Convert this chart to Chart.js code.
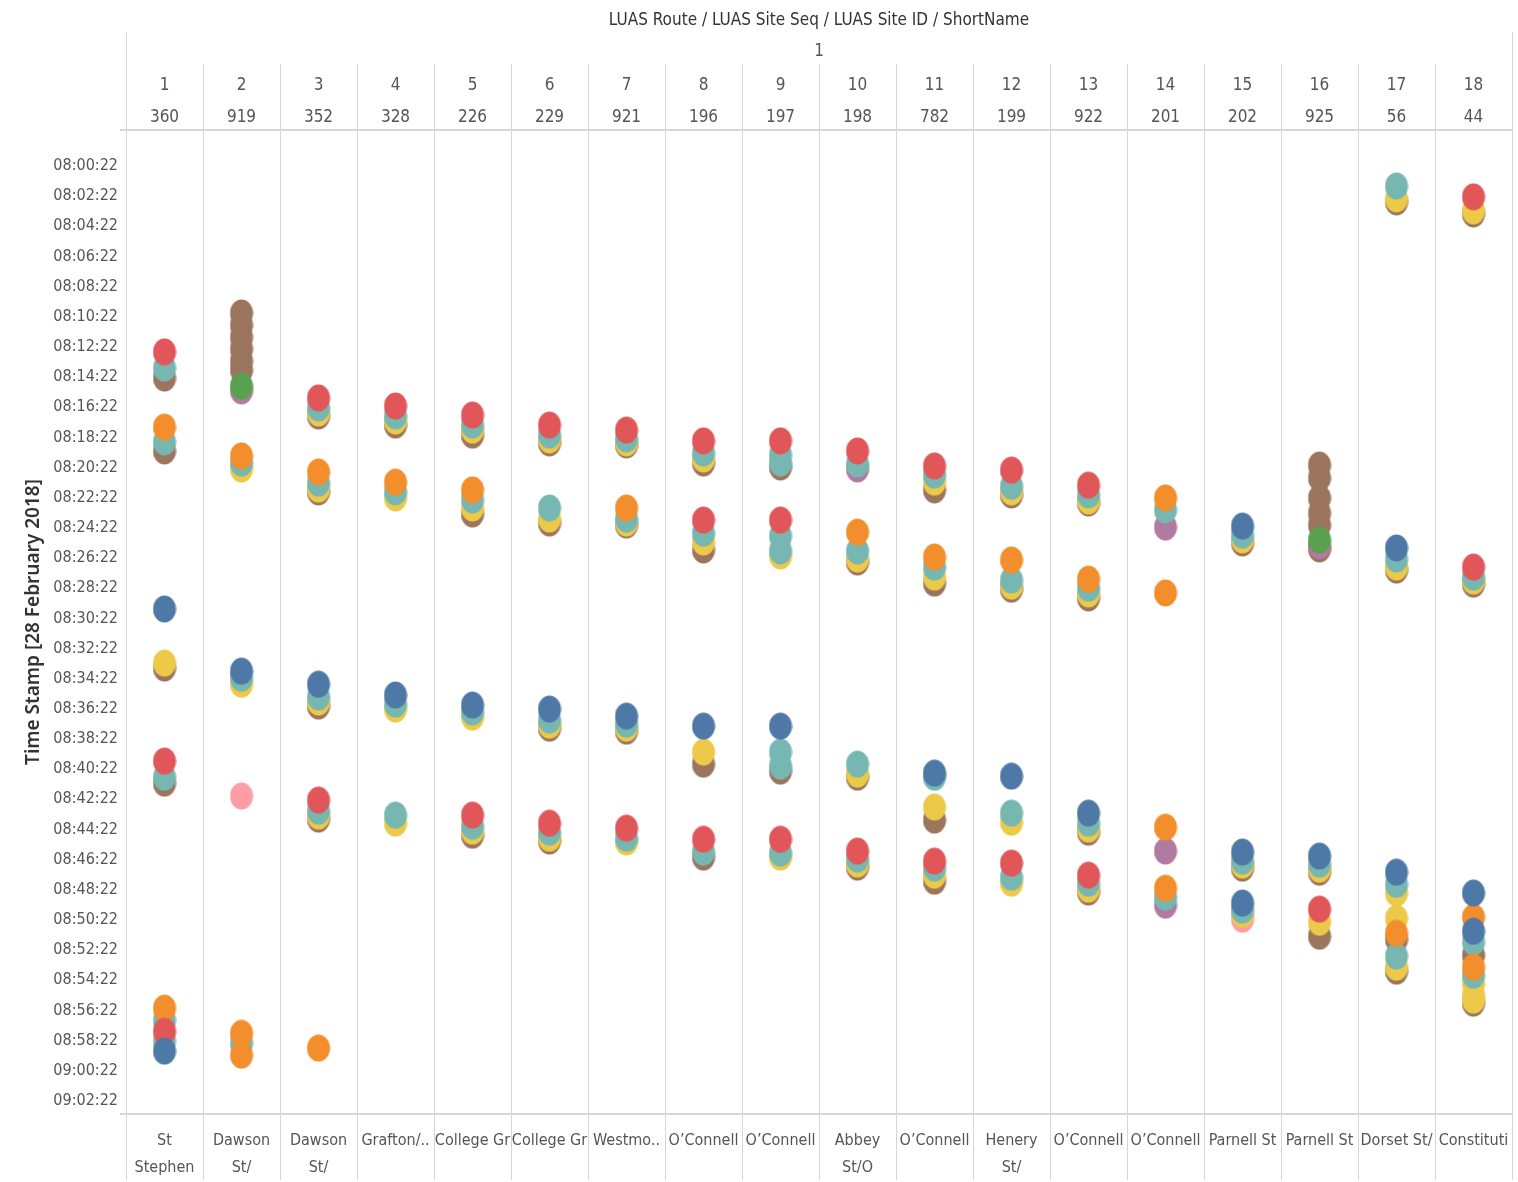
<!DOCTYPE html>
<html>
<head>
<meta charset="utf-8">
<title>LUAS stops timeline</title>
<script src="https://cdn.jsdelivr.net/npm/chart.js@4.4.1/dist/chart.umd.min.js"></script>
<style>
  html, body { margin: 0; padding: 0; background: #fff; }
  #wrap { width: 1518px; height: 1182px; }
</style>
</head>
<body>
<div id="wrap"><canvas id="luasChart" width="1518" height="1182"></canvas></div>
<script>
// header / axis labels
const seqNumbers = [1, 2, 3, 4, 5, 6, 7, 8, 9, 10, 11, 12, 13, 14, 15, 16, 17, 18];
const siteIds = ['360', '919', '352', '328', '226', '229', '921', '196', '197', '198', '782', '199', '922', '201', '202', '925', '56', '44'];
const shortNames = [
    ['St', 'Stephen'], ['Dawson', 'St/'], ['Dawson', 'St/'], ['Grafton/..'], ['College Gr'], ['College Gr'],
    ['Westmo..'], ['O’Connell'], ['O’Connell'], ['Abbey', 'St/O'], ['O’Connell'], ['Henery', 'St/'],
    ['O’Connell'], ['O’Connell'], ['Parnell St'], ['Parnell St'], ['Dorset St/'], ['Constituti']
];
const timeTicks = [
    '08:00:22', '08:02:22', '08:04:22', '08:06:22', '08:08:22', '08:10:22', '08:12:22', '08:14:22',
    '08:16:22', '08:18:22', '08:20:22', '08:22:22', '08:24:22', '08:26:22', '08:28:22', '08:30:22',
    '08:32:22', '08:34:22', '08:36:22', '08:38:22', '08:40:22', '08:42:22', '08:44:22', '08:46:22',
    '08:48:22', '08:50:22', '08:52:22', '08:54:22', '08:56:22', '08:58:22', '09:00:22', '09:02:22'
];
const timeMin = '07:58:07';
const timeMax = '09:03:22';

// one list per colour: [site seq, time stamp]
const blueStops = [
    [1, '08:29:53'], [1, '08:59:12'], [2, '08:34:00'], [3, '08:34:52'], [4, '08:35:35'], [5, '08:36:15'],
    [6, '08:36:31'], [7, '08:36:59'], [8, '08:37:39'], [9, '08:37:39'], [11, '08:40:46'], [12, '08:40:58'],
    [13, '08:43:25'], [15, '08:24:23'], [15, '08:46:00'], [15, '08:49:23'], [16, '08:46:16'],
    [17, '08:25:50'], [17, '08:47:20'], [18, '08:48:43'], [18, '08:51:15']
];
const redStops = [
    [1, '08:12:50'], [1, '08:39:58'], [1, '08:57:53'], [3, '08:15:53'], [3, '08:42:33'], [4, '08:16:25'],
    [5, '08:17:01'], [5, '08:43:33'], [6, '08:17:41'], [6, '08:44:05'], [7, '08:18:01'], [7, '08:44:25'],
    [8, '08:18:44'], [8, '08:23:59'], [8, '08:45:09'], [9, '08:18:44'], [9, '08:23:59'], [9, '08:45:09'],
    [10, '08:19:24'], [10, '08:45:56'], [11, '08:20:24'], [11, '08:46:36'], [12, '08:20:40'], [12, '08:46:44'],
    [13, '08:21:40'], [13, '08:47:32'], [16, '08:49:47'], [18, '08:02:33'], [18, '08:27:06']
];
const orangeStops = [
    [1, '08:17:49'], [1, '08:56:21'], [2, '08:19:44'], [2, '08:58:01'], [2, '08:59:28'], [3, '08:20:48'],
    [3, '08:59:00'], [4, '08:21:28'], [5, '08:21:59'], [7, '08:23:11'], [10, '08:24:47'], [11, '08:26:26'],
    [12, '08:26:38'], [13, '08:27:54'], [14, '08:22:31'], [14, '08:28:49'], [14, '08:44:21'], [14, '08:48:24'],
    [17, '08:51:23'], [18, '08:50:19'], [18, '08:53:38']
];
const greenStops = [[2, '08:15:06'], [16, '08:25:18']];
const tealStops = [
    [1, '08:13:54'], [1, '08:18:48'], [1, '08:41:02'], [1, '08:57:09'], [1, '08:58:32'],
    [2, '08:20:12'], [2, '08:34:28'], [2, '08:58:40'],
    [3, '08:16:33'], [3, '08:21:32'], [3, '08:35:43'], [3, '08:43:17'],
    [4, '08:17:05'], [4, '08:22:07'], [4, '08:36:11'], [4, '08:43:33'],
    [5, '08:17:41'], [5, '08:22:39'], [5, '08:36:43'], [5, '08:44:17'],
    [6, '08:18:21'], [6, '08:23:11'], [6, '08:37:15'], [6, '08:44:41'],
    [7, '08:18:36'], [7, '08:23:55'], [7, '08:37:31'], [7, '08:45:05'],
    [8, '08:19:32'], [8, '08:24:51'], [8, '08:46:00'],
    [9, '08:19:40'], [9, '08:20:12'], [9, '08:25:03'], [9, '08:26:02'], [9, '08:39:22'], [9, '08:40:18'], [9, '08:46:04'],
    [10, '08:20:16'], [10, '08:26:02'], [10, '08:40:10'], [10, '08:46:28'],
    [11, '08:21:00'], [11, '08:27:06'], [11, '08:41:02'], [11, '08:47:04'],
    [12, '08:21:44'], [12, '08:27:58'], [12, '08:43:25'], [12, '08:47:40'],
    [13, '08:22:19'], [13, '08:28:30'], [13, '08:44:05'], [13, '08:48:04'],
    [14, '08:23:19'], [14, '08:48:59'],
    [15, '08:24:59'], [15, '08:46:36'], [15, '08:49:51'],
    [16, '08:46:48'],
    [17, '08:01:50'], [17, '08:26:34'], [17, '08:48:08'], [17, '08:52:54'],
    [18, '08:27:46'], [18, '08:51:58'], [18, '08:54:10']
];
const purpleStops = [[2, '08:15:25'], [10, '08:20:36'], [14, '08:24:27'], [14, '08:45:56'], [14, '08:49:31'], [16, '08:25:42']];
const yellowStops = [
    [1, '08:33:28'], [2, '08:20:36'], [2, '08:34:52'],
    [3, '08:16:53'], [3, '08:21:56'], [3, '08:36:03'], [3, '08:43:37'],
    [4, '08:17:25'], [4, '08:22:31'], [4, '08:36:31'], [4, '08:44:05'],
    [5, '08:18:01'], [5, '08:23:11'], [5, '08:37:03'], [5, '08:44:37'],
    [6, '08:18:40'], [6, '08:23:55'], [6, '08:37:35'], [6, '08:45:05'],
    [7, '08:18:52'], [7, '08:24:11'], [7, '08:37:47'], [7, '08:45:20'],
    [8, '08:19:56'], [8, '08:25:26'], [8, '08:39:22'],
    [9, '08:26:22'], [9, '08:46:20'],
    [10, '08:26:34'], [10, '08:40:50'], [10, '08:46:48'],
    [11, '08:21:28'], [11, '08:27:46'], [11, '08:43:01'], [11, '08:47:32'],
    [12, '08:22:07'], [12, '08:28:22'], [12, '08:44:01'], [12, '08:48:04'],
    [13, '08:22:43'], [13, '08:28:53'], [13, '08:44:29'], [13, '08:48:28'],
    [15, '08:25:18'], [15, '08:46:52'], [15, '08:50:07'],
    [16, '08:47:08'], [16, '08:50:39'],
    [17, '08:02:41'], [17, '08:27:06'], [17, '08:48:43'], [17, '08:50:23'], [17, '08:53:38'],
    [18, '08:03:29'], [18, '08:28:02'], [18, '08:54:42'], [18, '08:55:29'], [18, '08:55:49']
];
const brownStops = [
    [1, '08:14:34'], [1, '08:19:24'], [1, '08:33:48'], [1, '08:41:26'],
    [2, '08:10:15'], [2, '08:11:03'], [2, '08:11:51'], [2, '08:12:38'], [2, '08:13:26'], [2, '08:14:02'],
    [3, '08:17:05'], [3, '08:22:07'], [3, '08:36:19'], [3, '08:43:49'],
    [4, '08:17:41'],
    [5, '08:18:21'], [5, '08:23:35'], [5, '08:44:53'],
    [6, '08:18:52'], [6, '08:24:11'], [6, '08:37:47'], [6, '08:45:16'],
    [7, '08:19:00'], [7, '08:24:19'], [7, '08:37:59'],
    [8, '08:20:12'], [8, '08:25:58'], [8, '08:40:10'], [8, '08:46:20'],
    [9, '08:20:28'], [9, '08:40:38'],
    [10, '08:26:46'], [10, '08:41:02'], [10, '08:47:00'],
    [11, '08:21:59'], [11, '08:28:10'], [11, '08:43:53'], [11, '08:47:56'],
    [12, '08:22:19'], [12, '08:28:34'],
    [13, '08:22:51'], [13, '08:29:09'], [13, '08:44:41'], [13, '08:48:39'],
    [15, '08:25:30'], [15, '08:47:04'],
    [16, '08:20:20'], [16, '08:21:12'], [16, '08:22:31'], [16, '08:23:31'], [16, '08:24:19'], [16, '08:25:54'],
    [16, '08:47:20'], [16, '08:51:35'],
    [17, '08:02:53'], [17, '08:27:18'], [17, '08:51:47'], [17, '08:53:54'],
    [18, '08:03:41'], [18, '08:28:14'], [18, '08:52:50'], [18, '08:56:01']
];
const pinkStops = [[2, '08:42:17'], [15, '08:50:27']];

// first entry ends up on top
const series = [
    { name: 'blue', color: '#4e79a7', stops: blueStops },
    { name: 'red', color: '#e15759', stops: redStops },
    { name: 'orange', color: '#f28e2b', stops: orangeStops },
    { name: 'green', color: '#59a14f', stops: greenStops },
    { name: 'teal', color: '#76b7b2', stops: tealStops },
    { name: 'purple', color: '#b07aa1', stops: purpleStops },
    { name: 'yellow', color: '#edc948', stops: yellowStops },
    { name: 'brown', color: '#9c755f', stops: brownStops },
    { name: 'pink', color: '#ff9da7', stops: pinkStops }
];

const FONT = "'DejaVu Sans Condensed', 'Liberation Sans Narrow', sans-serif";
const LINE = '#d6d6d6';

function toSec(t) {
    const p = t.split(':').map(Number);
    return p[0] * 3600 + p[1] * 60 + p[2];
}
function fmtTime(sec) {
    const pad = n => String(n).padStart(2, '0');
    return pad(Math.floor(sec / 3600)) + ':' + pad(Math.floor(sec / 60) % 60) + ':' + pad(sec % 60);
}

// Tableau marks are slightly taller than wide
function makeDot(color) {
    const c = document.createElement('canvas');
    c.width = 24;
    c.height = 28;
    const g = c.getContext('2d');
    g.fillStyle = color;
    g.beginPath();
    g.ellipse(12, 14, 11.5, 13.5, 0, 0, Math.PI * 2);
    g.fill();
    return c;
}

// keep the plot exactly between the column edges
function noSidePadding(s) {
    s.paddingLeft = 0;
    s.paddingRight = 0;
}

const frame = {
    id: 'tableauFrame',
    beforeDraw(chart) {
        const { ctx, chartArea } = chart;
        const x = chart.scales.x;
        ctx.save();
        ctx.strokeStyle = LINE;
        ctx.lineWidth = 1;
        // column separators through header and footer
        for (let k = 0; k <= seqNumbers.length; k++) {
            const px = Math.round(x.getPixelForValue(k + 0.5)) + 0.5;
            const top = (k === 0 || k === seqNumbers.length) ? 32 : 64;
            ctx.beginPath();
            ctx.moveTo(px, top);
            ctx.lineTo(px, 1180);
            ctx.stroke();
        }
        ctx.lineWidth = 2;
        [chartArea.top, chartArea.bottom].forEach(py => {
            ctx.beginPath();
            ctx.moveTo(120, py);
            ctx.lineTo(chartArea.right, py);
            ctx.stroke();
        });
        ctx.restore();
    },
    afterDraw(chart) {
        const { ctx, chartArea } = chart;
        const cx = (chartArea.left + chartArea.right) / 2;
        ctx.save();
        ctx.textAlign = 'center';
        ctx.textBaseline = 'middle';
        ctx.fillStyle = '#333';
        ctx.font = '17px ' + FONT;
        ctx.fillText('LUAS Route / LUAS Site Seq / LUAS Site ID / ShortName', cx, 21);
        ctx.fillStyle = '#555';
        ctx.fillText('1', cx, 52);
        ctx.restore();
    }
};

const datasets = series.map(s => ({
    label: s.name,
    data: s.stops.map(p => ({ x: p[0], y: toSec(p[1]) })),
    pointStyle: makeDot(s.color),
    pointRadius: 13,
    backgroundColor: s.color,
    borderColor: s.color,
    showLine: false,
    xAxisID: 'x',
    yAxisID: 'y'
}));

new Chart(document.getElementById('luasChart'), {
    type: 'scatter',
    data: { datasets },
    plugins: [frame],
    options: {
        responsive: false,
        animation: false,
        events: [],
        devicePixelRatio: 1,
        layout: { autoPadding: false, padding: { left: 0, right: 6, top: 0, bottom: 0 } },
        plugins: { legend: { display: false }, tooltip: { enabled: false } },
        scales: {
            x: {
                type: 'linear',
                position: 'bottom',
                min: 0.5,
                max: 18.5,
                afterBuildTicks: s => { s.ticks = seqNumbers.map(v => ({ value: v })); },
                afterFit: s => { s.height = 68; noSidePadding(s); },
                ticks: {
                    autoSkip: false, maxRotation: 0, minRotation: 0, padding: 13, color: '#555',
                    font: { family: FONT, size: 16, lineHeight: '27px' },
                    callback: v => shortNames[v - 1]
                },
                grid: { display: false, drawTicks: false },
                border: { display: false }
            },
            xTop: {
                type: 'linear',
                position: 'top',
                min: 0.5,
                max: 18.5,
                afterBuildTicks: s => { s.ticks = seqNumbers.map(v => ({ value: v })); },
                afterFit: s => { s.height = 130; noSidePadding(s); },
                ticks: {
                    autoSkip: false, maxRotation: 0, minRotation: 0, padding: -4, color: '#555',
                    font: { family: FONT, size: 17, lineHeight: '32px' },
                    callback: v => [String(v), siteIds[v - 1]]
                },
                grid: { display: false, drawTicks: false },
                border: { display: false }
            },
            y: {
                type: 'linear',
                reverse: true,
                min: toSec(timeMin),
                max: toSec(timeMax),
                afterBuildTicks: s => { s.ticks = timeTicks.map(t => ({ value: toSec(t) })); },
                afterFit: s => { s.width = 126; },
                ticks: { padding: 8, labelOffset: 2, color: '#555', font: { family: FONT, size: 16 }, callback: v => fmtTime(v) },
                grid: { display: false, drawTicks: false },
                border: { display: false },
                title: {
                    display: true,
                    text: 'Time Stamp [28 February 2018]',
                    color: '#333',
                    font: { family: "'Noto Sans', sans-serif", size: 19, weight: '600' },
                    padding: { top: 22, bottom: 0 }
                }
            }
        }
    }
});
</script>
</body>
</html>
